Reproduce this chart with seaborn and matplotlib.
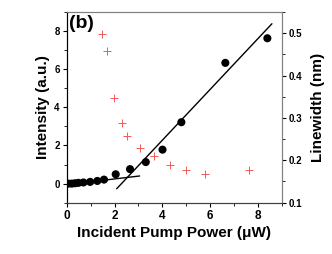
import numpy as np
import pandas as pd
import seaborn as sns
import matplotlib.pyplot as plt
from matplotlib.ticker import MultipleLocator

# intensity vs pump power (black dots)
power_int = [0.07, 0.21, 0.35, 0.49, 0.70, 0.98, 1.28, 1.56, 2.05, 2.65, 3.31, 4.01, 4.80, 6.64, 8.40]
intensity = [0.00, 0.00, 0.02, 0.04, 0.06, 0.09, 0.14, 0.21, 0.49, 0.76, 1.13, 1.78, 3.22, 6.33, 7.62]

# linewidth vs pump power (red crosses)
power_lw = [1.49, 1.69, 1.99, 2.30, 2.53, 3.07, 3.66, 4.33, 4.98, 5.78, 7.61]
linewidth = [0.499, 0.459, 0.348, 0.288, 0.258, 0.228, 0.209, 0.190, 0.178, 0.168, 0.178]

# guide lines (below / above threshold)
low_x = [0.0, 3.05]
low_y = [-0.05, 0.40]
high_x = [2.09, 8.59]
high_y = [-0.27, 8.38]

sns.set_style("ticks")
plt.rcParams['font.family'] = ['Liberation Sans', 'DejaVu Sans']
plt.rcParams['font.weight'] = 'bold'
plt.rcParams['text.color'] = 'black'
plt.rcParams['axes.labelcolor'] = 'black'
plt.rcParams['xtick.color'] = 'black'
plt.rcParams['ytick.color'] = 'black'

fig = plt.figure(figsize=(3.32, 2.54), dpi=100)
ax = fig.add_axes([0.201, 0.202, 0.6475, 0.751])
ax2 = ax.twinx()

df_lw = pd.DataFrame({"power": power_lw, "linewidth": linewidth})
sns.scatterplot(data=df_lw, x="power", y="linewidth", ax=ax2, marker='+',
                color='#f05a5a', s=38, linewidth=0.7)

df_int = pd.DataFrame({"power": power_int, "intensity": intensity})
sns.lineplot(x=low_x, y=low_y, ax=ax, color='black', linewidth=1.0)
sns.lineplot(x=high_x, y=high_y, ax=ax, color='black', linewidth=1.0)
sns.scatterplot(data=df_int, x="power", y="intensity", ax=ax, color='black',
                s=34, edgecolor='none', zorder=3)

ax.set_zorder(ax2.get_zorder() + 1)
ax.patch.set_visible(False)

ax.set_xlim(0, 9)
ax.set_ylim(-1, 9)
ax2.set_ylim(0.1, 0.55)

ax.xaxis.set_major_locator(MultipleLocator(2))
ax.xaxis.set_minor_locator(MultipleLocator(1))
ax.yaxis.set_major_locator(MultipleLocator(2))
ax.yaxis.set_minor_locator(MultipleLocator(1))
ax2.yaxis.set_major_locator(MultipleLocator(0.1))
ax2.yaxis.set_minor_locator(MultipleLocator(0.05))

for a in (ax, ax2):
    a.tick_params(which='major', length=3, width=0.8, labelsize=7, pad=2)
    a.tick_params(which='minor', length=2, width=0.6)
ax.tick_params(axis='x', labelsize=8.5)

ax.set_xlabel("Incident Pump Power (\u03bcW)", fontsize=11, fontweight='bold', labelpad=3)
ax.set_ylabel("Intensity (a.u.)", fontsize=11, fontweight='bold', labelpad=3)
ax2.set_ylabel("Linewidth (nm)", fontsize=11, fontweight='bold', labelpad=6)

for a in (ax, ax2):
    a.spines['top'].set_visible(True)
    a.spines['right'].set_visible(True)
    a.spines['top'].set_color('#808080')
    a.spines['right'].set_color('#808080')
    a.spines['bottom'].set_color('#404040')
    a.spines['left'].set_color('black')
    a.spines['top'].set_linewidth(0.8)
    a.spines['right'].set_linewidth(0.8)

ax.text(0.01, 0.985, "(b)", transform=ax.transAxes, fontsize=14,
        fontweight='bold', va='top', ha='left')

fig.savefig("out.png", dpi=100)
